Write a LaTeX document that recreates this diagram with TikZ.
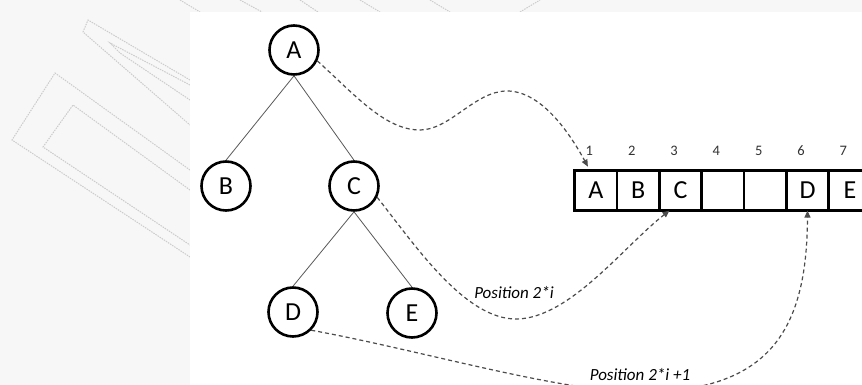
\documentclass[tikz,border=0pt]{standalone}
\usepackage{fontspec}
\setmainfont{Carlito}
\usetikzlibrary{arrows.meta}
\begin{document}
\begin{tikzpicture}[x=1pt,y=-1pt,
  treenode/.style={circle,draw=black,line width=2.6pt,minimum size=49pt,inner sep=0pt,font=\fontsize{26}{26}\selectfont},
  cell/.style={rectangle,draw=black,line width=2.6pt,minimum width=42.33pt,minimum height=40pt,inner sep=0pt,outer sep=0pt,font=\fontsize{26}{26}\selectfont},
  idx/.style={font=\fontsize{14.5}{14.5}\selectfont,text=black!80,inner sep=0pt},
  treeedge/.style={draw=black!65,line width=0.8pt},
  link/.style={draw=black!70,line width=1.2pt,dash pattern=on 4pt off 3pt,-{Triangle[length=7pt,width=6pt]}},
  lbl/.style={font=\fontsize{17}{17}\selectfont\itshape,inner sep=1pt},
  wm/.style={draw=black!20,line width=1pt,dash pattern=on 1.5pt off 1pt}
]
% background and watermark
\fill[black!3] (0,0) rectangle (862,385);
\path[use as bounding box] (0,0) rectangle (862,385);
\draw[wm] (190,170) -- (55,73) -- (12,140) -- (190,257);
\draw[wm] (190,190) -- (73,105) -- (43,147) -- (190,245);
\draw[wm] (190,80) -- (88,20) -- (83,32) -- (190,125);
\draw[wm] (190,85) -- (110,43) -- (120,53) -- (190,100);
\draw[wm] (180,0) -- (200,12);
\draw[wm] (240,0) -- (262,12);
\draw[wm] (300,0) -- (318,12);
\draw[wm] (360,0) -- (380,12);
\draw[wm] (430,0) -- (450,12);
\draw[wm] (520,12) -- (540,0);
% white panel
\fill[white] (190,12) rectangle (862,385);

% tree
\node[treenode] (A) at (294,50) {A};
\node[treenode] (B) at (226,186) {B};
\node[treenode] (C) at (354,186) {C};
\node[treenode] (D) at (293,312) {D};
\node[treenode] (E) at (412,313) {E};
\draw[treeedge] (A.south) -- (B.north);
\draw[treeedge] (A.south) -- (C.north);
\draw[treeedge] (C.south) -- (D.north);
\draw[treeedge] (C.south) -- (E.north);

% array
\node[cell] (c1) at (595.9,190.6) {A};
\node[cell] (c2) at (638.2,190.6) {B};
\node[cell] (c3) at (680.5,190.6) {C};
\node[cell] (c4) at (722.9,190.6) {};
\node[cell] (c5) at (765.2,190.6) {};
\node[cell] (c6) at (807.5,190.6) {D};
\node[cell] (c7) at (849.9,190.6) {E};
\foreach \i in {1,...,7}{
  \node[idx] (n\i) at ([xshift=-6.5pt,yshift=19.5pt]c\i.north) {\i};
}

% links
\draw[link] (A.-25) .. controls (355,95) and (385,130) .. (420,130)
  .. controls (450,130) and (475,91) .. (507,91)
  .. controls (540,91) and (568,130) .. ([xshift=-8pt,yshift=4pt]c1.north);
\draw[link] (C.-26) .. controls (415,245) and (465,320) .. (517,319)
  .. controls (570,318) and (625,245) .. ([xshift=-11pt]c3.south);
\draw[link] (D.-45) .. controls (420,350) and (560,392) .. (640,392)
  .. controls (770,392) and (807,330) .. (c6.south);

\node[lbl] (l1) at (514,293) {Position 2*i};
\node[lbl] (l2) at (640,374.5) {Position 2*i +1};
\end{tikzpicture}
\end{document}
